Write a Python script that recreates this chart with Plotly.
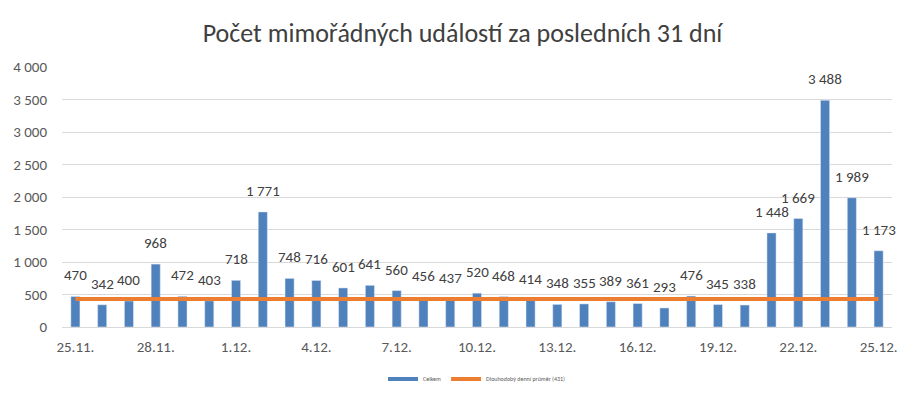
import plotly.graph_objects as go

dates = ["25.11.", "26.11.", "27.11.", "28.11.", "29.11.", "30.11.", "1.12.", "2.12.",
         "3.12.", "4.12.", "5.12.", "6.12.", "7.12.", "8.12.", "9.12.", "10.12.",
         "11.12.", "12.12.", "13.12.", "14.12.", "15.12.", "16.12.", "17.12.", "18.12.",
         "19.12.", "20.12.", "21.12.", "22.12.", "23.12.", "24.12.", "25.12."]
counts = [470, 342, 400, 968, 472, 403, 718, 1771, 748, 716, 601, 641, 560, 456, 437,
          520, 468, 414, 348, 355, 389, 361, 293, 476, 345, 338, 1448, 1669, 3488, 1989, 1173]
average = 431
tick_labels = dates[::3]

FONT = "Carlito, Lato, sans-serif"
BLUE = "#4F81BD"
ORANGE = "#ED7D31"


def fmt(v):
    return f"{v:,}".replace(",", " ")


fig = go.Figure()
fig.add_trace(go.Bar(
    x=dates, y=counts, marker_color=BLUE, showlegend=False, hoverinfo="x+y",
))
fig.add_trace(go.Scatter(
    x=dates, y=[average] * len(dates), mode="lines",
    line=dict(color=ORANGE, width=4), showlegend=False,
))
# legend entries drawn as lines like the reference
fig.add_trace(go.Scatter(x=[None], y=[None], mode="lines", name="Celkem",
                         line=dict(color=BLUE, width=4)))
fig.add_trace(go.Scatter(x=[None], y=[None], mode="lines",
                         name=f"Dlouhodobý denní průměr ({average})",
                         line=dict(color=ORANGE, width=4)))

for d, v in zip(dates, counts):
    fig.add_annotation(x=d, y=v, text=fmt(v), showarrow=False,
                       yanchor="bottom", yshift=10,
                       font=dict(size=15, color="#404040", family=FONT))

fig.update_layout(
    width=909, height=386,
    margin=dict(l=54, r=25, t=59, b=67, autoexpand=False),
    paper_bgcolor="white", plot_bgcolor="white",
    separators=", ",
    title=dict(text="Počet mimořádných událostí za posledních 31 dní",
               x=0.5, xanchor="center", y=0.935, yanchor="middle",
               font=dict(size=26, color="#404040", family=FONT)),
    bargap=0.66,
    font=dict(family=FONT, color="#595959"),
    legend=dict(orientation="h", x=0.5, xanchor="center", y=-0.2, yanchor="middle",
                font=dict(size=6, color="#595959")),
)
fig.update_xaxes(
    type="category", range=[-0.5, len(dates) - 0.5], automargin=False,
    tickmode="array", tickvals=tick_labels, ticktext=tick_labels,
    tickfont=dict(size=15, color="#595959"), showgrid=False, ticklabelstandoff=6,
    showline=True, linecolor="#D9D9D9", linewidth=1, ticks="",
)
fig.update_yaxes(
    range=[0, 4000], dtick=500, tickformat=",d", automargin=False,
    tickfont=dict(size=15, color="#595959"), ticklabelstandoff=14,
    gridcolor="#D9D9D9", gridwidth=1, zeroline=False, showline=False, ticks="",
)

fig.write_html("out.html")
